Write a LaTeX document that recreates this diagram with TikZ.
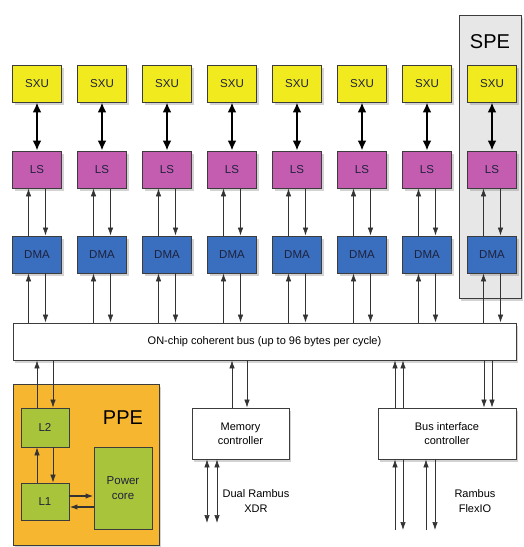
\documentclass[tikz,border=0pt]{standalone}
\usepackage{fontspec}
\setmainfont{Liberation Sans}
\usepackage{tikz}
\usetikzlibrary{arrows.meta,positioning,shadows,backgrounds}
\definecolor{SXUYellow}{RGB}{240,234,30}
\definecolor{LSPink}{RGB}{196,92,176}
\definecolor{DMABlue}{RGB}{58,110,190}
\definecolor{PPEGold}{RGB}{246,182,48}
\definecolor{CoreGreen}{RGB}{168,196,58}
\definecolor{SPEGray}{RGB}{231,231,231}
\definecolor{BoxEdge}{RGB}{60,60,60}
\definecolor{LabelInk}{RGB}{30,34,60}

\begin{document}
\begin{tikzpicture}[x=1pt,y=-1pt,
  unit/.style={draw=BoxEdge,line width=0.9pt,minimum width=49pt,minimum height=37pt,
               inner sep=0pt,font=\fontsize{11.5}{13}\selectfont,text=LabelInk,
               drop shadow={shadow xshift=2pt,shadow yshift=-2.5pt,opacity=0.35}},
  sxubox/.style={unit,fill=SXUYellow},
  lsbox/.style={unit,fill=LSPink},
  dmabox/.style={unit,fill=DMABlue},
  wbox/.style={draw=BoxEdge,line width=0.9pt,fill=white,inner sep=0pt,align=center,
               font=\fontsize{11}{14}\selectfont,
               drop shadow={shadow xshift=2pt,shadow yshift=-3pt,opacity=0.35}},
  gbox/.style={draw=BoxEdge,line width=0.9pt,fill=CoreGreen,inner sep=0pt,align=center,
               font=\fontsize{11.5}{15}\selectfont,text=LabelInk},
  link/.style={-{Latex[length=8pt,width=5.5pt]},line width=0.7pt,black!80},
  both/.style={{Latex[length=8pt,width=5.5pt]}-{Latex[length=8pt,width=5.5pt]},line width=0.7pt,black!80},
  fat/.style={{Latex[length=10pt,width=9pt]}-{Latex[length=10pt,width=9pt]},line width=2.2pt},
  note/.style={align=center,font=\fontsize{11}{15}\selectfont},
]
\useasboundingbox (0,0) rectangle (524,547);

% SPE frame behind the last column
\node[draw=BoxEdge,fill=SPEGray,line width=0.9pt,minimum width=62pt,minimum height=283pt,
      drop shadow={shadow xshift=2pt,shadow yshift=-2.5pt,opacity=0.35}] (spe) at (490,156.5) {};
\node[font=\fontsize{20}{20}\selectfont] (spelabel) at (490,42) {SPE};

% eight SPE columns
\foreach \i in {1,...,8}{
  \pgfmathsetmacro\cx{37+65*(\i-1)}
  \node[sxubox] (sxu\i) at (\cx,83.5) {SXU};
  \node[lsbox]  (ls\i)  at (\cx,169.5) {LS};
  \node[dmabox] (dma\i) at (\cx,254.5) {DMA};
}

% coherent bus
\node[wbox,minimum width=503pt,minimum height=37pt] (bus) at (264.5,341.5)
  {ON-chip coherent bus (up to 96 bytes per cycle)};

\foreach \i in {1,...,8}{
  \draw[fat] (sxu\i) -- (ls\i);
  \draw[link] ([xshift=-8.5pt]dma\i.north) -- ([xshift=-8.5pt]ls\i.south);
  \draw[link] ([xshift=8.5pt]ls\i.south) -- ([xshift=8.5pt]dma\i.north);
  \draw[link] ([xshift=-8.5pt]dma\i.south |- bus.north) -- ([xshift=-8.5pt]dma\i.south);
  \draw[link] ([xshift=8.5pt]dma\i.south) -- ([xshift=8.5pt]dma\i.south |- bus.north);
}

% PPE
\node[draw=BoxEdge,fill=PPEGold,line width=0.9pt,minimum width=146pt,minimum height=161pt,
      drop shadow={shadow xshift=2pt,shadow yshift=-2.5pt,opacity=0.35}] (ppe) at (86,464.5) {};
\node[font=\fontsize{20}{20}\selectfont] (ppelabel) at (123,418) {PPE};
\node[gbox,minimum width=48pt,minimum height=39pt] (l2) at (45,427.5) {L2};
\node[gbox,minimum width=48pt,minimum height=37pt] (l1) at (45,501.5) {L1};
\node[gbox,minimum width=58pt,minimum height=82pt] (core) at (123,488) {Power\\core};

\draw[link] ([xshift=-8pt]l2.north) -- ([xshift=-8pt]l2.north |- bus.south);
\draw[link] ([xshift=8pt]l2.north |- bus.south) -- ([xshift=8pt]l2.north);
\draw[link] ([xshift=-8pt]l1.north) -- ([xshift=-8pt]l2.south);
\draw[link] ([xshift=8pt]l2.south) -- ([xshift=8pt]l1.north);
\draw[link,line width=1.5pt] ([yshift=5.5pt]l1.east) -- ([yshift=5.5pt]l1.east -| core.west);
\draw[link,line width=1.5pt] ([yshift=-5.5pt]l1.east -| core.west) -- ([yshift=-5.5pt]l1.east);

% memory controller
\node[wbox,minimum width=97pt,minimum height=51pt] (mem) at (240.5,433.5) {Memory\\controller};
\draw[link] ([xshift=-8.5pt]mem.north) -- ([xshift=-8.5pt]mem.north |- bus.south);
\draw[link] ([xshift=6.5pt]mem.north |- bus.south) -- ([xshift=6.5pt]mem.north);
\coordinate (xdra) at (207,523);
\coordinate (xdrb) at (217,523);
\draw[both] (xdra |- mem.south) -- (xdra);
\draw[both] (xdrb |- mem.south) -- (xdrb);
\node[note] (xdr) at (256,501) {Dual Rambus\\XDR};

% bus interface controller
\node[wbox,minimum width=138pt,minimum height=51pt] (bic) at (447,433.5) {Bus interface\\controller};
\draw[link] ([xshift=-52pt]bic.north) -- ([xshift=-52pt]bic.north |- bus.south);
\draw[link] ([xshift=-44pt]bic.north) -- ([xshift=-44pt]bic.north |- bus.south);
\draw[link] ([xshift=37pt]bic.north |- bus.south) -- ([xshift=37pt]bic.north);
\draw[link] ([xshift=45pt]bic.north |- bus.south) -- ([xshift=45pt]bic.north);
\coordinate (fio) at (447,530);
\draw[link] ([xshift=-52pt]fio) -- ([xshift=-52pt]bic.south);
\draw[link] ([xshift=-44pt]bic.south) -- ([xshift=-44pt]fio);
\draw[link] ([xshift=-21pt]fio) -- ([xshift=-21pt]bic.south);
\draw[link] ([xshift=-12pt]bic.south) -- ([xshift=-12pt]fio);
\node[note] (flexio) at (475,501) {Rambus\\FlexIO};
\end{tikzpicture}
\end{document}
